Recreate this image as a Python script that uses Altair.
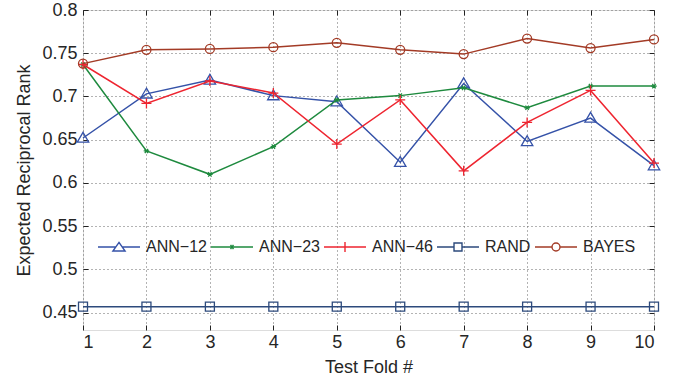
import altair as alt
import pandas as pd

folds = [1, 2, 3, 4, 5, 6, 7, 8, 9, 10]
series_names = ["ANN−12", "ANN−23", "ANN−46", "RAND", "BAYES"]
ann12 = [0.652, 0.703, 0.719, 0.701, 0.694, 0.624, 0.715, 0.648, 0.675, 0.620]
ann23 = [0.737, 0.637, 0.610, 0.642, 0.696, 0.701, 0.710, 0.687, 0.712, 0.712]
ann46 = [0.737, 0.692, 0.718, 0.704, 0.645, 0.696, 0.614, 0.670, 0.707, 0.623]
rand = [0.457, 0.457, 0.457, 0.457, 0.457, 0.457, 0.457, 0.457, 0.457, 0.457]
bayes = [0.738, 0.754, 0.755, 0.757, 0.762, 0.754, 0.749, 0.767, 0.756, 0.766]
y_ticks = [0.45, 0.5, 0.55, 0.6, 0.65, 0.7, 0.75, 0.8]

colors = ["#3552A8", "#1E8A3E", "#EE2530", "#2D4A7C", "#A33B26"]
marker_paths = [
    "M0,-1L1,0.72L-1,0.72Z",
    "M-1,0L1,0M-0.6,-0.8L0.6,0.8M-0.6,0.8L0.6,-0.8",
    "M-1,0L1,0M0,-1L0,1",
    "square",
    "circle",
]
marker_sizes = [130, 30, 100, 81, 81]
legend_paths = [
    "M-1,0L-0.15,0M0.15,0L1,0M0,-0.22L0.29,0.19L-0.29,0.19Z",
    "M-1,0L1,0M-0.07,-0.1L0.07,0.1M-0.07,0.1L0.07,-0.1",
    "M-1,0L1,0M0,-0.24L0,0.24",
    "M-1,0L-0.19,0M0.19,0L1,0M-0.19,-0.19L0.19,-0.19L0.19,0.19L-0.19,0.19Z",
    "M-1,0L-0.19,0M0.19,0L1,0M0.19,0A0.19,0.19 0 1,1 -0.19,0A0.19,0.19 0 1,1 0.19,0",
]

rows = []
for name, vals in zip(series_names, [ann12, ann23, ann46, rand, bayes]):
    for f, v in zip(folds, vals):
        rows.append({"fold": f, "err": v, "series": name})
df = pd.DataFrame(rows)

FONT = "Liberation Sans"
TXT = "#262626"

xs = alt.Scale(domain=[1, 10], nice=False, zero=False)
ys = alt.Scale(domain=[0.43, 0.8], nice=False, zero=False)
cs = alt.Scale(domain=series_names, range=colors)
ss = alt.Scale(domain=series_names, range=legend_paths)

x_axis = alt.Axis(
    orient="bottom", values=folds, title="Test Fold #", grid=True,
    gridDash=[1, 3], gridColor="#666", gridWidth=1, domain=False,
    offset=-5, tickSize=5, tickColor="#222", labelPadding=3,
    labelFont=FONT, labelFontSize=18, labelColor=TXT,
    titleFont=FONT, titleFontSize=18, titleColor=TXT, titleFontWeight="normal",
    titleX=285.5, titleY=47, titleBaseline="alphabetic",
)
y_axis = alt.Axis(
    orient="left", values=y_ticks, format=".2~f", title="Expected Reciprocal Rank",
    grid=True, gridDash=[1, 3], gridColor="#666", gridWidth=1, domain=False,
    offset=-5, tickSize=5, tickColor="#222", labelPadding=6,
    labelFont=FONT, labelFontSize=18, labelColor=TXT,
    titleFont=FONT, titleFontSize=18, titleColor=TXT, titleFontWeight="normal",
    titleX=-59, titleY=160, titleAngle=270, titleBaseline="alphabetic", titleAlign="center",
)
x_top = alt.Axis(orient="top", values=folds, title=None, labels=False, grid=False,
                 domain=False, offset=-5, tickSize=5, tickColor="#222")
y_right = alt.Axis(orient="right", values=y_ticks, title=None, labels=False, grid=False,
                   domain=False, offset=-5, tickSize=5, tickColor="#222")

base = alt.Chart(df)

series_layers = []
for i, (name, col, shp, sz) in enumerate(zip(series_names, colors, marker_paths, marker_sizes)):
    series_layers.append(
        base.transform_filter(alt.datum.series == name)
        .mark_line(
            color=col, strokeWidth=1.5,
            point=alt.OverlayMarkDef(shape=shp, size=sz, filled=False, color=col,
                                     strokeWidth=1.3, opacity=1),
        )
        .encode(
            x=alt.X("fold:Q", scale=xs, axis=x_axis if i == 0 else None),
            y=alt.Y("err:Q", scale=ys, axis=y_axis if i == 0 else None),
        )
    )

leg = alt.Legend(
    title=None, orient="none", legendX=14, legendY=215, direction="horizontal",
    symbolSize=1764, symbolStrokeWidth=1.4, symbolOpacity=1, labelOffset=5, columnPadding=1,
    labelFont=FONT, labelFontSize=16, labelColor=TXT, padding=0,
)
legend_layer = base.mark_point(filled=False, opacity=0, size=1764).encode(
    x=alt.X("fold:Q", scale=xs, axis=x_top),
    y=alt.Y("err:Q", scale=ys, axis=y_right),
    color=alt.Color("series:N", scale=cs, legend=leg),
    shape=alt.Shape("series:N", scale=ss, legend=leg),
)

chart = alt.layer(*series_layers, legend_layer).resolve_axis(
    x="independent", y="independent"
).properties(
    width=571, height=320,
    padding={"left": 83, "top": 10, "right": 34, "bottom": 52},
    autosize="none",
).configure_view(stroke="#222", strokeWidth=1).configure(background="white")

chart.save("out.html", embed_options={"renderer": "svg", "actions": False})
